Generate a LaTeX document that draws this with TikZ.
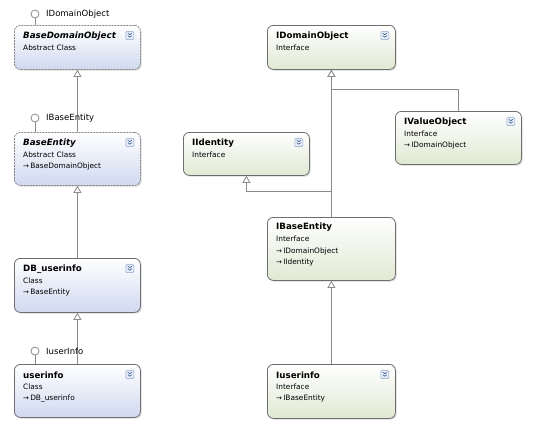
\documentclass[tikz,border=0pt]{standalone}
\usepackage{fontspec}
\setmainfont{DejaVu Sans}
\newfontfamily\smallfont{DejaVu Sans}
\newfontfamily\arrfont{DejaVu Sans}
\usetikzlibrary{arrows.meta,shadows,calc}
\definecolor{clsbot}{HTML}{D0D9F0}
\definecolor{intbot}{HTML}{E0E9D3}
\definecolor{bordc}{HTML}{6E6E6E}
\definecolor{linec}{HTML}{8A8A8A}
\definecolor{iconb}{HTML}{8DA2C8}
\definecolor{iconf}{HTML}{E6EEFA}
\definecolor{iconc}{HTML}{3C5A8C}
\newcommand\myarr{{\arrfont\fontsize{7}{8}\selectfont →}\,}
\newcommand\expicon[2]{%
  \node[draw=iconb, fill=iconf, rounded corners=1pt, minimum size=8pt, inner sep=0pt, line width=0.5pt] (#1) at (#2) {};
  \draw[iconc, line width=0.6pt] ($(#1)+(-2,-2.3)$) -- ++(2,1.5) -- ++(2,-1.5);
  \draw[iconc, line width=0.6pt] ($(#1)+(-2,0.2)$) -- ++(2,1.5) -- ++(2,-1.5);
}
\begin{document}
\begin{tikzpicture}[x=1pt,y=-1pt,
  umlbox/.style={draw=bordc, line width=0.8pt, rounded corners=6pt, anchor=north west, inner sep=0pt,
    drop shadow={shadow xshift=1.3pt, shadow yshift=-1.3pt, fill=black, opacity=0.15}},
  clsbox/.style={umlbox, top color=white, bottom color=clsbot},
  absbox/.style={clsbox, dash pattern=on 2pt off 1pt, draw=bordc!85},
  intbox/.style={umlbox, top color=white, bottom color=intbot},
  ttl/.style={anchor=west, inner sep=0pt, font=\fontsize{8.7}{10}\selectfont\bfseries},
  attl/.style={ttl, font=\fontsize{8.7}{10}\selectfont\bfseries\itshape},
  sub/.style={anchor=west, inner sep=0pt, font=\smallfont\fontsize{7.4}{8}\selectfont},
  conn/.style={draw=linec, line width=0.8pt},
  inh/.style={conn, -{Triangle[open, width=8pt, length=7pt, fill=white]}},
  lolli/.style={circle, draw=linec, line width=0.8pt, fill=white, minimum size=8pt, inner sep=0pt},
  lbl/.style={anchor=west, inner sep=0pt, font=\smallfont\fontsize{8.5}{10}\selectfont}
]
\useasboundingbox (0,0) rectangle (537,440);

% ---------- left column ----------
\node[absbox, minimum width=126pt, minimum height=44pt] (bdo) at (14,25) {};
\node[attl] (bdot) at ($(bdo.north west)+(9,11)$) {BaseDomainObject};
\node[sub] (bdos) at ($(bdo.north west)+(9,23)$) {Abstract Class};
\expicon{bdoi}{$(bdo.north east)+(-11,10.5)$}

\node[absbox, minimum width=126pt, minimum height=53pt] (be) at (14,132) {};
\node[attl] (bet) at ($(be.north west)+(9,11)$) {BaseEntity};
\node[sub] (bes) at ($(be.north west)+(9,23)$) {Abstract Class};
\node[sub] (bea) at ($(be.north west)+(9,34.5)$) {\myarr BaseDomainObject};
\expicon{bei}{$(be.north east)+(-11,10.5)$}

\node[clsbox, minimum width=126pt, minimum height=54pt] (db) at (14,258) {};
\node[ttl] (dbt) at ($(db.north west)+(9,11)$) {DB\_userinfo};
\node[sub] (dbs) at ($(db.north west)+(9,23)$) {Class};
\node[sub] (dba) at ($(db.north west)+(9,34.5)$) {\myarr BaseEntity};
\expicon{dbi}{$(db.north east)+(-11,10.5)$}

\node[clsbox, minimum width=126pt, minimum height=53pt] (ui) at (14,364) {};
\node[ttl] (uit) at ($(ui.north west)+(9,11)$) {userinfo};
\node[sub] (uis) at ($(ui.north west)+(9,23)$) {Class};
\node[sub] (uia) at ($(ui.north west)+(9,34.5)$) {\myarr DB\_userinfo};
\expicon{uii}{$(ui.north east)+(-11,10.5)$}

\draw[inh] (be.north) -- (bdo.south);
\draw[inh] (db.north) -- (be.south);
\draw[inh] (ui.north) -- (db.south);

\node[lolli] (l1) at (35,14) {};
\draw[conn] (l1.south) -- (l1 |- bdo.north);
\node[lbl] (l1t) at (46,14) {IDomainObject};
\node[lolli] (l2) at (35,118) {};
\draw[conn] (l2.south) -- (l2 |- be.north);
\node[lbl] (l2t) at (46,118) {IBaseEntity};
\node[lolli] (l3) at (35,351) {};
\draw[conn] (l3.south) -- (l3 |- ui.north);
\node[lbl] (l3t) at (46,351) {IuserInfo};

% ---------- right column ----------
\node[intbox, minimum width=128pt, minimum height=44pt] (ido) at (267,25) {};
\node[ttl] (idot) at ($(ido.north west)+(9,11)$) {IDomainObject};
\node[sub] (idos) at ($(ido.north west)+(9,23)$) {Interface};
\expicon{idoi}{$(ido.north east)+(-11,10.5)$}

\node[intbox, minimum width=126pt, minimum height=43pt] (iid) at (183,132) {};
\node[ttl] (iidt) at ($(iid.north west)+(9,11)$) {IIdentity};
\node[sub] (iids) at ($(iid.north west)+(9,23)$) {Interface};
\expicon{iidi}{$(iid.north east)+(-11,10.5)$}

\node[intbox, minimum width=126pt, minimum height=53pt] (ivo) at (395,111) {};
\node[ttl] (ivot) at ($(ivo.north west)+(9,11)$) {IValueObject};
\node[sub] (ivos) at ($(ivo.north west)+(9,23)$) {Interface};
\node[sub] (ivoa) at ($(ivo.north west)+(9,34.5)$) {\myarr IDomainObject};
\expicon{ivoi}{$(ivo.north east)+(-11,10.5)$}

\node[intbox, minimum width=128pt, minimum height=63pt] (ibe) at (267,217) {};
\node[ttl] (ibet) at ($(ibe.north west)+(9,10.5)$) {IBaseEntity};
\node[sub] (ibes) at ($(ibe.north west)+(9,22)$) {Interface};
\node[sub] (ibea) at ($(ibe.north west)+(9,34)$) {\myarr IDomainObject};
\node[sub] (ibeb) at ($(ibe.north west)+(9,45.5)$) {\myarr IIdentity};

\node[intbox, minimum width=128pt, minimum height=54pt] (ius) at (267,364) {};
\node[ttl] (iust) at ($(ius.north west)+(9,11)$) {Iuserinfo};
\node[sub] (iuss) at ($(ius.north west)+(9,23)$) {Interface};
\node[sub] (iusa) at ($(ius.north west)+(9,34.5)$) {\myarr IBaseEntity};
\expicon{iusi}{$(ius.north east)+(-11,10.5)$}

\draw[inh] (ibe.north) -- (ido.south);
\draw[inh] (ivo.north) -- ++(0,-22) -| (ido.south);
\draw[inh] (ibe.north) -- ++(0,-26) -| (iid.south);
\draw[inh] (ius.north) -- (ibe.south);
\end{tikzpicture}
\end{document}
